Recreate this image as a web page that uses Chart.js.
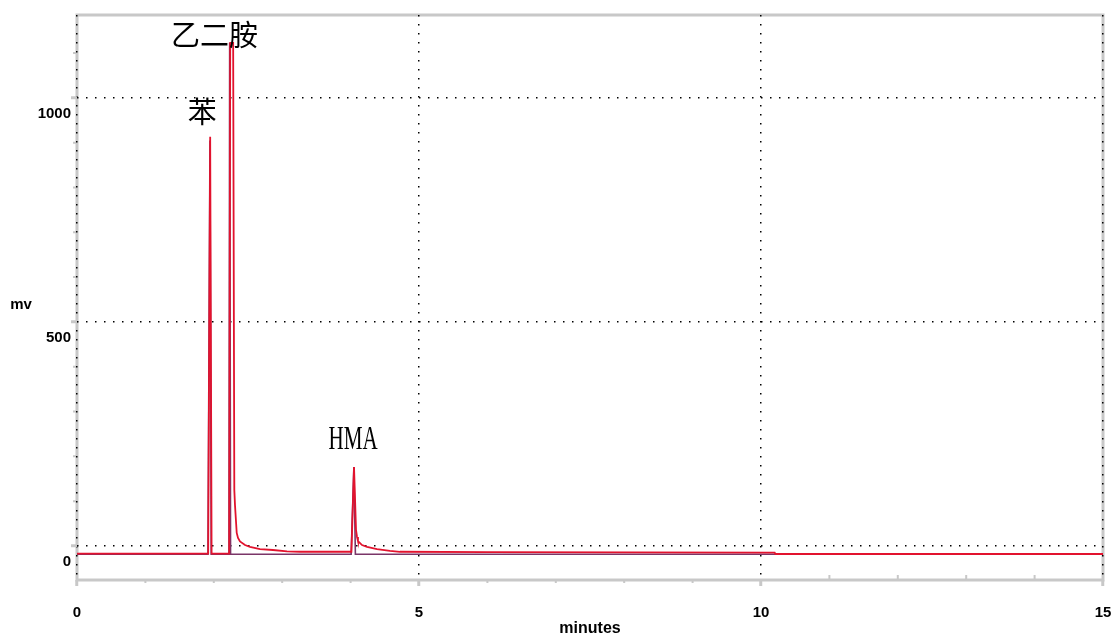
<!DOCTYPE html>
<html>
<head>
<meta charset="utf-8">
<title>色谱图</title>
<script src="https://cdn.jsdelivr.net/npm/chart.js"></script>
<style>
  html, body { margin: 0; padding: 0; background: #fff; }
  #wrap { position: relative; width: 1117px; height: 637px; }
</style>
</head>
<body>
<div id="wrap"><canvas id="chrom"></canvas></div>
<script>
'use strict'

// retention time (minutes) and detector signal (mv), first run
const redTimes = [0, 1.918, 1.947, 1.968, 2.225, 2.24, 2.283, 2.30, 2.31, 2.335, 2.354, 2.383, 2.456, 2.529, 2.675, 2.865, 3.07, 3.26, 4.012,
  4.05, 4.079, 4.094, 4.108, 4.167, 4.24, 4.386, 4.576, 4.72, 6.0, 10.2, 10.21, 15]
const redMv = [-17, -17, 913, -17, -17, 1123, 1123, 125, 91, 29, 18, 10, 2, -2, -7, -9, -12, -13, -13,
  176, 36, 20, 11, 2, -2, -7, -11, -13, -14, -15, -18, -18]

// second run, same column
const darkTimes = [0, 1.915, 1.944, 1.962, 2.222, 2.232, 2.245, 4.008, 4.048, 4.07, 15]
const darkMv = [-18.5, -18.5, 905, -18.5, -18.5, 1123, -18.5, -18.5, 176, -18.5, -18.5]

// peak names and apex of each peak
const peakNames = ['苯', '乙二胺', 'HMA']
const peakTimes = [1.947, 2.26, 4.05]
const peakHeights = [913, 1123, 176]

const yTicks = [0, 500, 1000]
const xTicks = [0, 5, 10, 15]

const toPoints = (xs, ys) => xs.map((x, i) => ({ x: x, y: ys[i] }))

const frameColor = '#c8c8c8'
const axisFont = { family: '"Liberation Sans", Arial, sans-serif', size: 15, weight: 'bold' }

// grey frame + minor ticks, drawn under the dotted grid
const framePlugin = {
  id: 'frame',
  beforeDraw (chart) {
    const { ctx, chartArea: a, scales } = chart
    ctx.save()
    ctx.strokeStyle = frameColor
    ctx.lineWidth = 3
    ctx.strokeRect(a.left, a.top, a.right - a.left, a.bottom - a.top)

    ctx.lineWidth = 2
    ctx.beginPath()
    for (let m = 1; m < 15; m++) {
      if (m % 5 === 0) continue
      const px = scales.x.getPixelForValue(m)
      if (m > 10) {
        ctx.moveTo(px, a.bottom - 5)
        ctx.lineTo(px, a.bottom)
      } else {
        ctx.moveTo(px, a.bottom)
        ctx.lineTo(px, a.bottom + 3)
      }
    }
    for (let v = 100; v < 1200; v += 100) {
      if (v % 500 === 0) continue
      const py = scales.y.getPixelForValue(v)
      ctx.moveTo(a.left - 4, py)
      ctx.lineTo(a.left, py)
    }
    ctx.stroke()

    // horizontal unit label on the left
    ctx.fillStyle = '#000'
    ctx.font = 'bold 15px "Liberation Sans", Arial, sans-serif'
    ctx.textAlign = 'center'
    ctx.textBaseline = 'middle'
    ctx.fillText('mv', 21, 305)
    ctx.restore()
  }
}

// compound names above their peaks
const peakLabelPlugin = {
  id: 'peakLabels',
  afterDatasetsDraw (chart) {
    const { ctx, scales } = chart
    const shift = [[-8, -25], [-17, -8], [-1, -27]]
    ctx.save()
    ctx.fillStyle = '#000'
    ctx.textAlign = 'center'
    ctx.textBaseline = 'middle'
    peakNames.forEach((name, i) => {
      const px = scales.x.getPixelForValue(peakTimes[i]) + shift[i][0]
      const py = scales.y.getPixelForValue(peakHeights[i]) + shift[i][1]
      if (name === 'HMA') {
        ctx.save()
        ctx.translate(px, py)
        ctx.scale(0.62, 1)
        ctx.font = '34px "Liberation Serif", "DejaVu Serif", serif'
        ctx.fillText(name, 0, 0)
        ctx.restore()
      } else {
        ctx.font = '29px "Noto Sans CJK SC", sans-serif'
        ctx.fillText(name, px, py)
      }
    })
    ctx.restore()
  }
}

const ctx = document.getElementById('chrom')

const chart = new Chart(ctx, {
  type: 'line',
  data: {
    datasets: [
      {
        label: 'run 1',
        data: toPoints(redTimes, redMv),
        borderColor: '#e2132e',
        borderWidth: 1.8,
        pointRadius: 0,
        tension: 0
      },
      {
        label: 'run 2',
        data: toPoints(darkTimes, darkMv),
        borderColor: '#7a3568',
        borderWidth: 1.6,
        pointRadius: 0,
        tension: 0
      }
    ]
  },
  plugins: [framePlugin, peakLabelPlugin],
  options: {
    responsive: true,
    maintainAspectRatio: false,
    animation: false,
    layout: { padding: { top: 15, right: 14, left: 0, bottom: 0 } },
    plugins: {
      legend: { display: false },
      tooltip: { enabled: false }
    },
    scales: {
      x: {
        type: 'linear',
        min: 0,
        max: 15,
        afterFit: (scale) => {
          scale.height = 57
          scale.paddingLeft = 0
          scale.paddingRight = 0
        },
        afterBuildTicks: (scale) => { scale.ticks = xTicks.map(v => ({ value: v })) },
        border: { display: false, dash: [1.5, 7.5] },
        grid: {
          color: '#000',
          lineWidth: 1.5,
          tickColor: frameColor,
          tickWidth: 3,
          tickLength: 6
        },
        ticks: {
          color: '#000',
          font: axisFont,
          padding: 18,
          maxRotation: 0,
          callback: (v) => String(v)
        },
        title: {
          display: true,
          text: 'minutes',
          color: '#000',
          font: { family: '"Liberation Sans", Arial, sans-serif', size: 16, weight: 'bold', lineHeight: 1 },
          padding: 0
        }
      },
      y: {
        type: 'linear',
        min: -76,
        max: 1185,
        afterFit: (scale) => {
          scale.width = 77
          scale.paddingTop = 0
          scale.paddingBottom = 0
        },
        afterBuildTicks: (scale) => { scale.ticks = yTicks.map(v => ({ value: v })) },
        border: { display: false, dash: [1.5, 7.5] },
        grid: {
          color: '#000',
          lineWidth: 1.5,
          tickColor: frameColor,
          tickWidth: 3,
          tickLength: 6
        },
        ticks: {
          color: '#000',
          font: axisFont,
          padding: 0,
          labelOffset: 16,
          callback: (v) => String(v)
        }
      }
    }
  }
})
</script>
</body>
</html>
